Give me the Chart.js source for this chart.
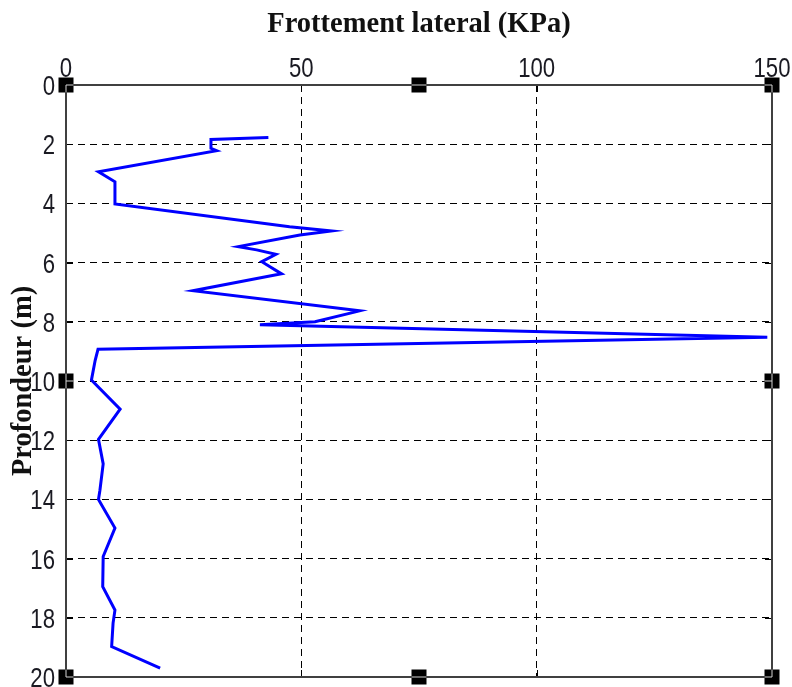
<!DOCTYPE html>
<html>
<head>
<meta charset="utf-8">
<script src="https://cdn.jsdelivr.net/npm/chart.js@4.4.1/dist/chart.umd.min.js"></script>
<style>
  html, body { margin: 0; padding: 0; background: #fff; }
  #wrap { width: 792px; height: 687px; }
</style>
</head>
<body>
<div id="wrap"><canvas id="profil" width="792" height="687"></canvas></div>
<script>
// Frottement lateral vs profondeur
const depth = [1.77, 1.84, 2.14, 2.22, 2.93, 3.27, 4.02, 4.79, 4.93, 5.07, 5.46, 5.57, 5.72,
  5.97, 6.38, 6.95, 7.63, 8.00, 8.10, 8.52, 8.93, 9.30, 9.97, 10.95, 11.97, 12.80, 13.70,
  14.00, 14.97, 15.93, 16.95, 17.74, 18.18, 18.97, 19.70];
const friction = [43.0, 30.8, 30.8, 32.0, 6.9, 10.4, 10.4, 47.5, 56.4, 49.7, 36.6, 40.5, 44.6,
  41.6, 45.8, 27.0, 62.4, 52.9, 41.2, 149.0, 6.8, 6.2, 5.4, 11.5, 6.9, 7.9, 7.2,
  6.9, 10.4, 7.9, 7.8, 10.4, 10.0, 9.7, 20.0];
const xTicks = [0, 50, 100, 150];
const yTicks = [0, 2, 4, 6, 8, 10, 12, 14, 16, 18, 20];

const titleFont = { family: '"Liberation Serif", "Times New Roman", serif', size: 28.5, weight: 'bold' };
const labelFont = '27px "Liberation Sans", Arial, sans-serif';
const squeeze = 0.82; // narrow digits

function noPad(s) {
  s.paddingLeft = s.paddingRight = s.paddingTop = s.paddingBottom = 0;
}

function narrowText(ctx, txt, px, py, align) {
  ctx.save();
  ctx.translate(px, py);
  ctx.scale(squeeze, 1);
  ctx.textAlign = align;
  ctx.fillText(txt, 0, 0);
  ctx.restore();
}

// frame, inner ticks, tick labels and the little black handles
const frame = {
  id: 'frame',
  afterDraw(chart) {
    const { ctx, chartArea: a, scales: { x, y } } = chart;
    ctx.save();
    ctx.strokeStyle = '#000';
    ctx.lineWidth = 1;
    ctx.beginPath();
    xTicks.forEach(v => {
      const px = Math.round(x.getPixelForValue(v)) + 0.5;
      ctx.moveTo(px, a.top); ctx.lineTo(px, a.top + 7);
      ctx.moveTo(px, a.bottom); ctx.lineTo(px, a.bottom - 7);
    });
    yTicks.forEach(v => {
      const py = Math.round(y.getPixelForValue(v)) + 0.5;
      ctx.moveTo(a.left, py); ctx.lineTo(a.left + 7, py);
      ctx.moveTo(a.right, py); ctx.lineTo(a.right - 7, py);
    });
    ctx.stroke();

    ctx.strokeStyle = '#404040';
    ctx.lineWidth = 2;
    ctx.strokeRect(a.left, a.top, a.right - a.left, a.bottom - a.top);

    // tick labels
    ctx.font = labelFont;
    ctx.fillStyle = '#1a1a22';
    ctx.textBaseline = 'alphabetic';
    xTicks.forEach(v => narrowText(ctx, String(v), x.getPixelForValue(v), a.top - 8, 'center'));
    yTicks.forEach(v => narrowText(ctx, String(v), a.left - 11, y.getPixelForValue(v) + 10, 'right'));

    const hs = 15;
    const handles = [[0, 0], [75, 0], [150, 0], [0, 10], [150, 10], [0, 20], [75, 20], [150, 20]];
    handles.forEach(([vx, vy]) => {
      const cx = x.getPixelForValue(vx);
      const cy = y.getPixelForValue(vy);
      ctx.fillStyle = '#000';
      ctx.fillRect(cx - hs / 2, cy - hs / 2, hs, hs);
      ctx.strokeStyle = '#d4d4d4';
      ctx.lineWidth = 1;
      ctx.beginPath();
      if (vy === 0 || vy === 20) {
        const x0 = vx === 0 ? cx : cx - hs / 2;
        const x1 = vx === 150 ? cx : cx + hs / 2;
        ctx.moveTo(x0, cy); ctx.lineTo(x1, cy);
      }
      if (vx === 0 || vx === 150) {
        const y0 = vy === 0 ? cy : cy - hs / 2;
        const y1 = vy === 20 ? cy : cy + hs / 2;
        ctx.moveTo(cx, y0); ctx.lineTo(cx, y1);
        if (vy === 10) {
          const dir = vx === 0 ? 1 : -1;
          ctx.moveTo(cx, cy); ctx.lineTo(cx + dir * hs / 2, cy);
        }
      }
      ctx.stroke();
    });
    ctx.restore();
  }
};

new Chart(document.getElementById('profil'), {
  type: 'line',
  data: {
    datasets: [{
      data: depth.map((d, i) => ({ x: friction[i], y: d })),
      borderColor: '#0000ff',
      borderWidth: 3,
      pointRadius: 0,
      tension: 0,
      fill: false
    }]
  },
  options: {
    responsive: false,
    animation: false,
    devicePixelRatio: 1,
    layout: { padding: { top: 0, left: 0, right: 20, bottom: 10 } },
    plugins: { legend: { display: false }, tooltip: { enabled: false } },
    scales: {
      x: {
        type: 'linear',
        position: 'top',
        min: 0,
        max: 150,
        afterBuildTicks: s => { s.ticks = xTicks.map(v => ({ value: v })); },
        afterFit: s => { s.height = 85; noPad(s); },
        ticks: { display: false },
        grid: {
          drawTicks: false,
          color: c => (c.tick && (c.tick.value === 0 || c.tick.value === 150)) ? 'rgba(0,0,0,0)' : '#000',
          lineWidth: 1
        },
        border: { display: false, dash: [7, 5] },
        title: {
          display: true,
          text: 'Frottement lateral (KPa)',
          font: titleFont,
          color: '#111',
          padding: { top: 8, bottom: 0 }
        }
      },
      y: {
        type: 'linear',
        reverse: true,
        min: 0,
        max: 20,
        afterBuildTicks: s => { s.ticks = yTicks.map(v => ({ value: v })); },
        afterFit: s => { s.width = 66; noPad(s); },
        ticks: { display: false },
        grid: {
          drawTicks: false,
          color: c => (c.tick && (c.tick.value === 0 || c.tick.value === 20)) ? 'rgba(0,0,0,0)' : '#000',
          lineWidth: 1
        },
        border: { display: false, dash: [7, 5] },
        title: {
          display: true,
          text: 'Profondeur (m)',
          font: titleFont,
          color: '#111',
          padding: { top: 7, bottom: 0 }
        }
      }
    }
  },
  plugins: [frame]
});
</script>
</body>
</html>
